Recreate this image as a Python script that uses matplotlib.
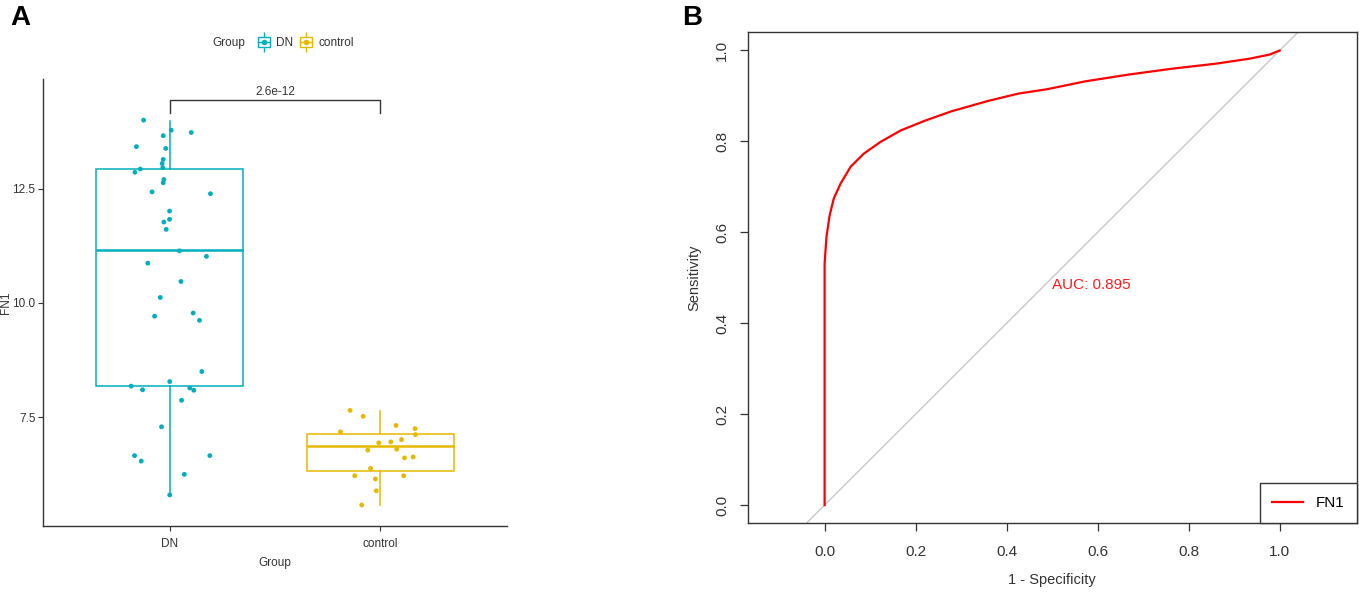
import matplotlib
matplotlib.use("Agg")
import matplotlib.pyplot as plt
from matplotlib import font_manager as fm
from matplotlib.lines import Line2D
from matplotlib.patches import Patch

# ---- data ----
groups = ["DN", "control"]
group_colors = ["#00AFBB", "#E7B800"]

dn_values = [14.00, 13.78, 13.73, 13.66, 13.42, 13.38, 13.14, 13.05, 12.96, 12.93,
             12.86, 12.70, 12.63, 12.43, 12.39, 12.01, 11.83, 11.77, 11.61, 11.14,
             11.02, 10.87, 10.47, 10.12, 9.71, 9.78, 9.62, 8.50, 8.28, 8.18,
             8.10, 8.14, 8.09, 7.87, 7.29, 6.66, 6.54, 6.66, 6.25, 5.80]
dn_jitter = [-0.123, 0.008, 0.103, -0.030, -0.157, -0.018, -0.030, -0.035, -0.032, -0.139,
             -0.164, -0.027, -0.030, -0.083, 0.194, 0.000, 0.000, -0.027, -0.016, 0.047,
             0.175, -0.103, 0.054, -0.044, -0.071, 0.112, 0.142, 0.153, 0.001, -0.182,
             -0.128, 0.096, 0.115, 0.057, -0.038, -0.166, -0.134, 0.191, 0.070, 0.001]

ctrl_values = [7.65, 7.52, 7.32, 7.25, 7.18, 7.12, 7.01, 6.94, 6.96, 6.80,
               6.78, 6.61, 6.63, 6.38, 6.22, 6.22, 6.15, 5.89, 5.58]
ctrl_jitter = [-0.144, -0.082, 0.074, 0.164, -0.190, 0.166, 0.100, -0.008, 0.049, 0.077,
               -0.060, 0.114, 0.155, -0.047, -0.122, 0.110, -0.024, -0.020, -0.089]

# box stats (whislo, q1, med, q3, whishi)
dn_box = [5.80, 8.18, 11.15, 12.93, 13.98]
ctrl_box = [5.59, 6.33, 6.88, 7.13, 7.64]

p_label = "2.6e-12"
bracket_y = 14.43
bracket_drop = 14.15

# ROC curve for FN1
fpr = [0.0, 0.0, 0.0, 0.004, 0.011, 0.020, 0.035, 0.057, 0.086, 0.123, 0.167, 0.219,
       0.278, 0.359, 0.425, 0.49, 0.572, 0.668, 0.764, 0.860, 0.934, 0.978, 1.0]
tpr = [0.0, 0.43, 0.531, 0.589, 0.637, 0.674, 0.707, 0.744, 0.773, 0.799, 0.824, 0.845,
       0.866, 0.889, 0.905, 0.915, 0.932, 0.947, 0.960, 0.971, 0.982, 0.991, 1.0]
auc_text = "AUC: 0.895"
roc_ticks = [0.0, 0.2, 0.4, 0.6, 0.8, 1.0]

# ---- fonts ----
names = {f.name for f in fm.fontManager.ttflist}
narrow = "Liberation Sans Narrow" if "Liberation Sans Narrow" in names else "Liberation Sans"
plt.rcParams["font.family"] = ["Liberation Sans", "DejaVu Sans"]
fsA = 8.5 if narrow == "Liberation Sans" else 9.5

W, H = 1359, 598
fig = plt.figure(figsize=(W / 100, H / 100), dpi=100)


def px_axes(l, t, r, b):
    return fig.add_axes([l / W, 1 - b / H, (r - l) / W, (b - t) / H])


# ================= panel A =================
axA = px_axes(43, 79, 507, 526)
dark = "#333333"

for i, (stats, col) in enumerate(zip([dn_box, ctrl_box], group_colors)):
    st = dict(whislo=stats[0], q1=stats[1], med=stats[2], q3=stats[3], whishi=stats[4],
              fliers=[])
    axA.bxp([st], positions=[i + 1], widths=0.7, showfliers=False, showcaps=False,
            patch_artist=True,
            boxprops=dict(facecolor="white", edgecolor=col, linewidth=1.1),
            whiskerprops=dict(color=col, linewidth=1.1),
            medianprops=dict(color=col, linewidth=1.8), zorder=2)

axA.scatter([1 + j for j in dn_jitter], dn_values, s=12, color=group_colors[0],
            edgecolors="none", zorder=3)
axA.scatter([2 + j for j in ctrl_jitter], ctrl_values, s=12, color=group_colors[1],
            edgecolors="none", zorder=3)

# significance bracket
axA.plot([1, 1, 2, 2], [bracket_drop, bracket_y, bracket_y, bracket_drop],
         color=dark, lw=1.0, clip_on=False)
axA.text(1.5, bracket_y + 0.06, p_label, ha="center", va="bottom",
         fontsize=fsA, family=narrow, color=dark)

axA.set_xlim(0.4, 2.6)
axA.set_ylim(5.12, 14.9)
axA.set_xticks([1, 2])
axA.set_xticklabels(groups)
axA.set_yticks([7.5, 10.0, 12.5])
axA.set_yticklabels(["7.5", "10.0", "12.5"])
for s in ["top", "right"]:
    axA.spines[s].set_visible(False)
for s in ["left", "bottom"]:
    axA.spines[s].set_color(dark)
    axA.spines[s].set_linewidth(1.0)
axA.tick_params(axis="both", direction="out", length=3.5, width=0.8, color=dark,
                labelcolor=dark, labelsize=fsA)
axA.tick_params(axis="x", pad=5)
axA.tick_params(axis="y", pad=2)
for lab in axA.get_xticklabels() + axA.get_yticklabels():
    lab.set_family(narrow)
axA.set_xlabel("Group", fontsize=fsA, family=narrow, color=dark, labelpad=5)
axA.set_ylabel("FN1", fontsize=fsA, family=narrow, color=dark)
axA.yaxis.set_label_coords(-0.066, 0.5)

# legend on top (title on the left, like ggplot)
handles = []
for col in group_colors:
    whisk = Line2D([], [], color=col, marker="|", ms=15, mew=1.0, linestyle="none")
    box = Patch(facecolor="white", edgecolor=col, linewidth=1.0)
    mid = Line2D([], [], color=col, lw=1.0, marker="o", ms=3)
    handles.append((whisk, box, mid))
leg = fig.legend(handles, groups, loc="center left",
                 bbox_to_anchor=(252 / W, 1 - 43 / H), ncol=2, frameon=False,
                 borderpad=0, handlelength=1.0, handleheight=0.9, handletextpad=0.55,
                 columnspacing=0.6, prop={"family": narrow, "size": fsA})
for t in leg.get_texts():
    t.set_color(dark)
fig.text(245 / W, 1 - 43 / H, "Group", ha="right", va="center", fontsize=fsA,
         family=narrow, color=dark)

fig.text(10 / W, 1 - 5 / H, "A", ha="left", va="top", fontsize=20, fontweight="bold")

# ================= panel B =================
axB = px_axes(747.7, 32.3, 1357, 523.3)
axB.axline((0, 0), (1, 1), color="#C8C8C8", lw=1.0, zorder=1)
axB.plot(fpr, tpr, color="#FF0000", lw=1.6, label="FN1", zorder=3)
axB.text(0.5, 0.5, auc_text, ha="left", va="top", color="#FF1A1A", fontsize=11)

axB.set_xlim(-0.169, 1.17)
axB.set_ylim(-0.04, 1.04)
axB.set_xticks(roc_ticks)
axB.set_xticklabels([f"{v:.1f}" for v in roc_ticks])
axB.set_yticks(roc_ticks)
axB.set_yticklabels([f"{v:.1f}" for v in roc_ticks], rotation=90, va="center")
for s in axB.spines.values():
    s.set_color(dark)
    s.set_linewidth(1.0)
axB.tick_params(axis="both", direction="out", length=5.5, width=0.9, color=dark,
                labelcolor=dark, labelsize=11)
axB.tick_params(axis="x", pad=10)
axB.tick_params(axis="y", pad=8)
axB.set_xlabel("1 - Specificity", fontsize=10.5, color=dark, labelpad=10)
axB.set_ylabel("Sensitivity", fontsize=10.5, color=dark, labelpad=10)

legB = axB.legend(loc="lower right", borderaxespad=0, fancybox=False, framealpha=1,
                  edgecolor=dark, borderpad=0.85, handlelength=2.0, handletextpad=0.8,
                  fontsize=11)
legB.get_frame().set_linewidth(1.0)

fig.text(682 / W, 1 - 5 / H, "B", ha="left", va="top", fontsize=20, fontweight="bold")

fig.savefig("out.png", dpi=100)
